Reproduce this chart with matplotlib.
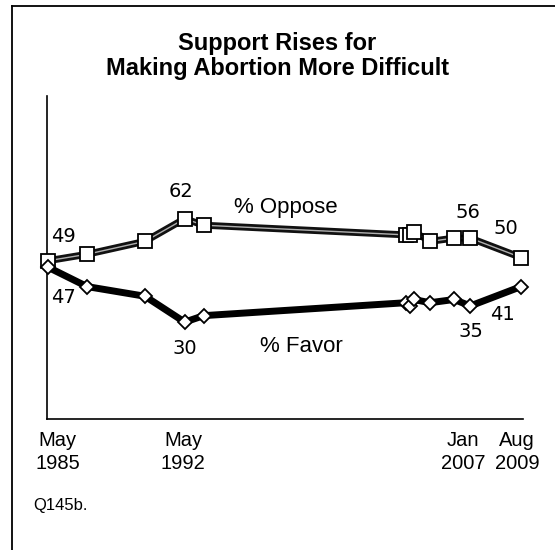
import matplotlib
matplotlib.use("Agg")
import matplotlib.pyplot as plt
from matplotlib.lines import Line2D

# survey dates (decimal years) and results
dates = [1985.37, 1987.37, 1990.34, 1992.37, 1993.35, 2003.7, 2003.9, 2004.1,
         2004.94, 2006.17, 2007.0, 2009.6]
oppose = [49, 51, 55, 62, 60, 57, 57, 58, 55, 56, 56, 50]
favor = [47, 41, 38, 30, 32, 36, 35, 37, 36, 37, 35, 41]

tick_pos = [1985.88, 1992.29, 2006.63, 2009.40]
tick_labels = ["May\n1985", "May\n1992", "Jan\n2007", "Aug\n2009"]

# which points get a number label, and pixel offsets for them
oppose_labels = {0: (15, 24), 3: (-4, 27), 10: (-2, 26), 11: (-15, 29)}
favor_labels = {0: (15, -30), 3: (0, -26), 10: (1, -26), 11: (-19, -28)}

SANS = "Liberation Sans"

fig = plt.figure(figsize=(5.55, 5.5), dpi=100)
ax = fig.add_axes([47 / 555, 131 / 550, 476 / 555, 323 / 550])

# oppose: double line look
ax.plot(dates, oppose, color="#111111", lw=5, zorder=2)
ax.plot(dates, oppose, color="#b0b0b0", lw=1.0, zorder=3)
ax.plot(dates, oppose, ls="none", marker="s", ms=9.5, mfc="white", mec="black",
        mew=1.3, zorder=5, clip_on=False)

# favor: thick solid line
ax.plot(dates, favor, color="black", lw=5, zorder=2)
ax.plot(dates, favor, ls="none", marker="D", ms=7.5, mfc="white", mec="black",
        mew=1.3, zorder=5, clip_on=False)

for i, off in oppose_labels.items():
    ax.annotate(str(oppose[i]), (dates[i], oppose[i]), xytext=off,
                textcoords="offset pixels", ha="center", va="center",
                fontsize=14, family="DejaVu Sans")
for i, off in favor_labels.items():
    ax.annotate(str(favor[i]), (dates[i], favor[i]), xytext=off,
                textcoords="offset pixels", ha="center", va="center",
                fontsize=14, family="DejaVu Sans")

ax.text(1997.56, 65.6, "% Oppose", ha="center", va="center", fontsize=16, family=SANS)
ax.text(1998.33, 22.3, "% Favor", ha="center", va="center", fontsize=16, family=SANS)

ax.set_xlim(1985.32, 2009.70)
ax.set_ylim(0, 100)
ax.set_yticks([])
ax.set_xticks(tick_pos)
ax.set_xticklabels(tick_labels, fontsize=14.5, family=SANS, linespacing=1.25)
ax.tick_params(axis="x", length=0, pad=9)
for s in ["top", "right"]:
    ax.spines[s].set_visible(False)
ax.spines["left"].set_linewidth(1.2)
ax.spines["bottom"].set_linewidth(1.2)

fig.text(0.5, 1 - 32 / 550, "Support Rises for\nMaking Abortion More Difficult",
         ha="center", va="top", fontsize=17, fontweight="bold", family=SANS,
         linespacing=1.12)
fig.text(33 / 555, 1 - 498 / 550, "Q145b.", ha="left", va="top", fontsize=12, family=SANS)

# frame around the chart (left and top edges only visible)
fig.add_artist(Line2D([12 / 555, 12 / 555], [0, 1 - 6 / 550], color="black", lw=1.3))
fig.add_artist(Line2D([12 / 555, 1], [1 - 6 / 550, 1 - 6 / 550], color="black", lw=1.3))

fig.savefig("out.png", dpi=100)
